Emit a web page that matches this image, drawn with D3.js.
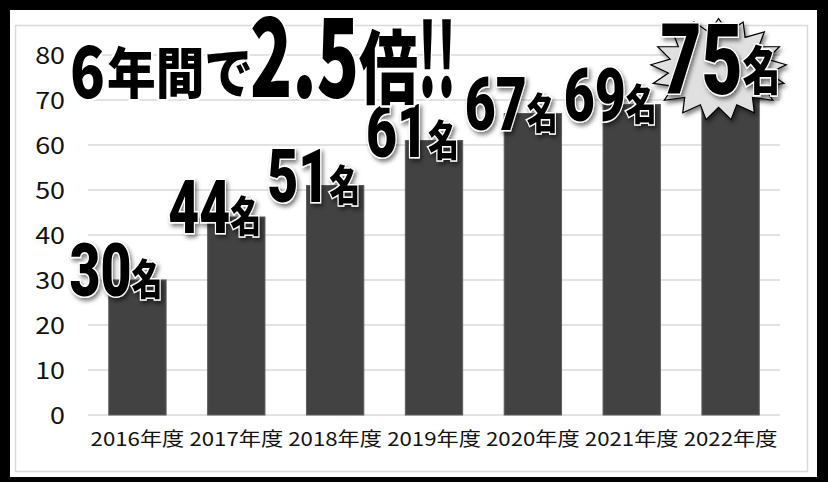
<!DOCTYPE html>
<html>
<head>
<meta charset="utf-8">
<script src="https://cdn.jsdelivr.net/npm/d3@7"></script>
<style>
  body { margin: 0; background: #fff; }
  svg { display: block; }
</style>
</head>
<body>
<div id="chart"></div>
<script>
// chart data
const categories = ["2016年度", "2017年度", "2018年度", "2019年度", "2020年度", "2021年度", "2022年度"];
const values = [30, 44, 51, 61, 67, 69, 75];
const yTicks = [0, 10, 20, 30, 40, 50, 60, 70, 80];
const unit = "名";
const title = ["6", "年間で", "2.5", "倍", "!!"];

const width = 828, height = 482;
const jp = "'Noto Sans CJK JP', 'Noto Sans', sans-serif";
const stretch = 1.17; // the source picture is a little wider than tall

const svg = d3.select("#chart")
    .append("svg")
    .attr("width", width)
    .attr("height", height);

const defs = svg.append("defs");
defs.append("filter")
    .attr("id", "shadow")
    .attr("x", "-20%").attr("y", "-20%")
    .attr("width", "150%").attr("height", "150%")
    .append("feDropShadow")
    .attr("dx", 2).attr("dy", 3)
    .attr("stdDeviation", 2)
    .attr("flood-color", "#000")
    .attr("flood-opacity", 0.5);

// black frame + inner gray box
svg.append("rect").attr("width", width).attr("height", height).attr("fill", "#000");
svg.append("rect").attr("x", 10).attr("y", 10).attr("width", 807).attr("height", 467).attr("fill", "#fff");
svg.append("rect").attr("x", 15.5).attr("y", 25.5).attr("width", 792).attr("height", 446)
    .attr("fill", "none").attr("stroke", "#d9d9d9").attr("stroke-width", 1.5);

const x = d3.scaleBand().domain(categories).range([88, 780]).paddingInner(0.42).paddingOuter(0.21);
const y = d3.scaleLinear().domain([0, 80]).range([415, 55]);

// gridlines
svg.append("g")
    .selectAll("line")
    .data(yTicks)
    .join("line")
    .attr("x1", 88).attr("x2", 780)
    .attr("y1", d => y(d)).attr("y2", d => y(d))
    .attr("stroke", "#d9d9d9")
    .attr("stroke-width", 1.5);

// y axis
const yAxis = svg.append("g")
    .attr("transform", "translate(88,0)")
    .call(d3.axisLeft(y).tickValues(yTicks).tickSize(0).tickPadding(23 / stretch));
yAxis.select(".domain").remove();
yAxis.selectAll("text")
    .attr("font-family", jp)
    .attr("font-size", 23)
    .attr("fill", "#111")
    .attr("dy", "0.36em")
    .attr("transform", `scale(${stretch},1)`);

// x axis
const xAxis = svg.append("g")
    .attr("transform", "translate(0,415)")
    .call(d3.axisBottom(x).tickSize(0).tickPadding(18));
xAxis.select(".domain").remove();
xAxis.selectAll("text")
    .attr("font-family", jp)
    .attr("font-size", 19)
    .attr("fill", "#111")
    .attr("transform", `scale(${stretch},1)`);

// bars
svg.append("g")
    .selectAll("rect")
    .data(values)
    .join("rect")
    .attr("x", (d, i) => x(categories[i]))
    .attr("y", d => y(d))
    .attr("width", x.bandwidth())
    .attr("height", d => y(0) - y(d))
    .attr("fill", "#424242")
    .attr("stroke", "#5e5e5e")
    .attr("stroke-width", 1);

// starburst behind the biggest value
const maxI = values.indexOf(d3.max(values));
const burstCx = x(categories[maxI]) + x.bandwidth() / 2 - 12;
const burstCy = y(values[maxI]) - 8;
const spikes = 17;
const burstPts = d3.range(spikes * 2).map(k => {
    const a = Math.PI * k / spikes - Math.PI / 2;
    const r = k % 2 === 0 ? 1 : 0.74;
    return [burstCx + Math.cos(a) * 68 * r, burstCy + Math.sin(a) * 51 * r];
});
svg.append("path")
    .attr("d", d3.line().curve(d3.curveLinearClosed)(burstPts))
    .attr("fill", "#e0e0e0")
    .attr("stroke", "#000")
    .attr("stroke-width", 1.2)
    .attr("filter", "url(#shadow)");

// value labels
const labels = svg.append("g")
    .selectAll("g")
    .data(values)
    .join("g")
    .attr("transform", (d, i) => `translate(${x(categories[i]) + x.bandwidth() / 2},${y(d) + 16})`)
    .attr("filter", "url(#shadow)");

labels.append("text")
    .attr("x", (d, i) => i === maxI ? -70 : -68)
    .attr("font-family", "Roboto, 'Noto Sans', sans-serif")
    .attr("font-weight", 900)
    .attr("font-size", (d, i) => i === maxI ? 98 : 75)
    .attr("textLength", (d, i) => i === maxI ? 82 : 62)
    .attr("lengthAdjust", "spacingAndGlyphs")
    .attr("fill", "#000")
    .attr("stroke", "#fff")
    .attr("stroke-width", 3)
    .attr("paint-order", "stroke")
    .text(d => d);

labels.append("text")
    .attr("x", (d, i) => i === maxI ? 12 : -6)
    .attr("y", (d, i) => i === maxI ? -4 : -1)
    .attr("font-family", jp)
    .attr("font-weight", 900)
    .attr("font-size", (d, i) => i === maxI ? 52 : 42)
    .attr("textLength", (d, i) => i === maxI ? 38 : 31)
    .attr("lengthAdjust", "spacingAndGlyphs")
    .attr("fill", "#000")
    .attr("stroke", "#fff")
    .attr("stroke-width", 3)
    .attr("paint-order", "stroke")
    .text(unit);

// headline, white halo keeps the gridlines off the letters
const head = [
    { t: title[0], x: 70, y: 98, size: 72, len: 35 },
    { t: title[1], x: 107, y: 93, size: 55, len: 146 },
    { t: title[2], x: 250, y: 97, size: 109, len: 109 },
    { t: title[3], x: 359, y: 97, size: 80, len: 59 },
    { t: title[4], x: 418, y: 97, size: 101, len: 38 }
];
svg.append("g")
    .selectAll("text")
    .data(head)
    .join("text")
    .attr("x", d => d.x)
    .attr("y", d => d.y)
    .attr("font-family", jp)
    .attr("font-weight", 900)
    .attr("font-size", d => d.size)
    .attr("textLength", d => d.len)
    .attr("lengthAdjust", "spacingAndGlyphs")
    .attr("fill", "#000")
    .attr("stroke", "#fff")
    .attr("stroke-width", 5)
    .attr("stroke-linejoin", "round")
    .attr("paint-order", "stroke")
    .text(d => d.t);
</script>
</body>
</html>
